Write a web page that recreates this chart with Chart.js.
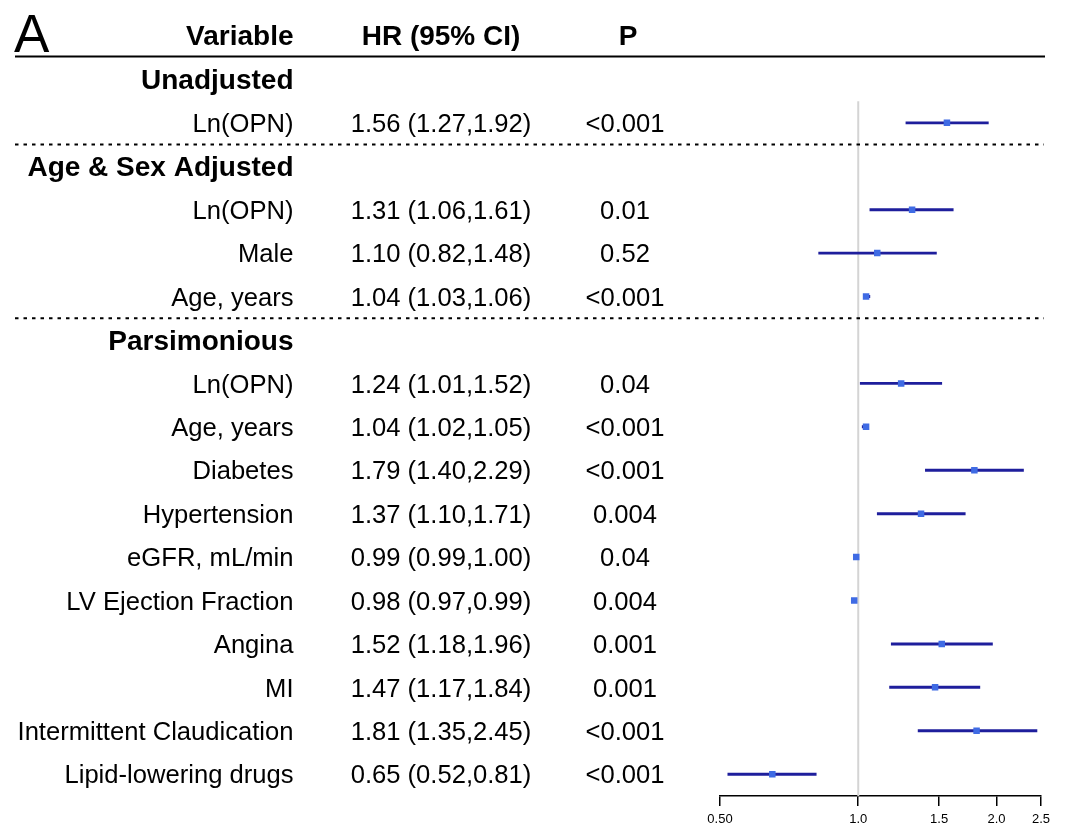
<!DOCTYPE html>
<html>
<head>
<meta charset="utf-8">
<script src="https://cdn.jsdelivr.net/npm/chart.js@4.4.1/dist/chart.umd.min.js"></script>
<style>
  html, body { margin: 0; padding: 0; background: #fff; }
  #wrap { width: 1065px; height: 828px; }
</style>
</head>
<body>
<div id="wrap"><canvas id="forest" width="1065" height="828"></canvas></div>
<script>
// rows of the table, top to bottom (row 0 is the column header)
const rowLabels = ['', 'Unadjusted', 'Ln(OPN)', 'Age & Sex Adjusted', 'Ln(OPN)', 'Male', 'Age, years',
  'Parsimonious', 'Ln(OPN)', 'Age, years', 'Diabetes', 'Hypertension', 'eGFR, mL/min',
  'LV Ejection Fraction', 'Angina', 'MI', 'Intermittent Claudication', 'Lipid-lowering drugs'];
const groupRows = [1, 3, 7];
const hr    = [null, null, 1.56, null, 1.31, 1.10, 1.04, null, 1.24, 1.04, 1.79, 1.37, 0.99, 0.98, 1.52, 1.47, 1.81, 0.65];
const ciLow = [null, null, 1.27, null, 1.06, 0.82, 1.03, null, 1.01, 1.02, 1.40, 1.10, 0.99, 0.97, 1.18, 1.17, 1.35, 0.52];
const ciHigh= [null, null, 1.92, null, 1.61, 1.48, 1.06, null, 1.52, 1.05, 2.29, 1.71, 1.00, 0.99, 1.96, 1.84, 2.45, 0.81];
const pText = ['', '', '<0.001', '', '0.01', '0.52', '<0.001', '', '0.04', '<0.001', '<0.001', '0.004', '0.04',
  '0.004', '0.001', '0.001', '<0.001', '<0.001'];
const xTicks = [0.5, 1, 1.5, 2, 2.5];
const dividerRows = [2.5, 6.5];

const FONT = "'Liberation Sans', Arial, Helvetica, sans-serif";

const ciData = ciLow.map((lo, i) => (lo == null ? null : [lo, ciHigh[i]]));

// table text, reference line and dividers
const tablePlugin = {
  id: 'tablePlugin',
  beforeDatasetsDraw(chart) {
    const ctx = chart.ctx;
    const x = chart.scales.x, y = chart.scales.y;
    const rowH = y.getPixelForValue(1) - y.getPixelForValue(0);
    ctx.save();
    // vertical line at HR = 1
    ctx.strokeStyle = '#d4d4d4';
    ctx.lineWidth = 2;
    ctx.beginPath();
    ctx.moveTo(x.getPixelForValue(1), y.getPixelForValue(1) + rowH / 2);
    ctx.lineTo(x.getPixelForValue(1), chart.chartArea.bottom);
    ctx.stroke();
    // dashed dividers between sections
    ctx.strokeStyle = '#000';
    ctx.lineWidth = 2;
    ctx.setLineDash([3.5, 5]);
    dividerRows.forEach(r => {
      const py = y.getPixelForValue(0) + r * rowH;
      ctx.beginPath();
      ctx.moveTo(15, py);
      ctx.lineTo(1044, py);
      ctx.stroke();
    });
    // solid rule under the header
    ctx.setLineDash([]);
    ctx.beginPath();
    ctx.moveTo(15, 56.5);
    ctx.lineTo(1045, 56.5);
    ctx.stroke();
    ctx.restore();
  },
  afterDraw(chart) {
    const ctx = chart.ctx;
    const y = chart.scales.y;
    ctx.save();
    ctx.fillStyle = '#000';
    ctx.textBaseline = 'alphabetic';

    ctx.font = '53px ' + FONT;
    ctx.textAlign = 'left';
    ctx.fillText('A', 14, 52);

    const head = y.getPixelForValue(0) + 9;
    ctx.font = 'bold 28px ' + FONT;
    ctx.textAlign = 'right';
    ctx.fillText('Variable', 293.5, head);
    ctx.textAlign = 'center';
    ctx.fillText('HR (95% CI)', 441, head);
    ctx.fillText('P', 628, head);

    rowLabels.forEach((lab, i) => {
      if (i === 0) return;
      const py = y.getPixelForValue(i);
      if (groupRows.includes(i)) {
        ctx.font = 'bold 28px ' + FONT;
        ctx.textAlign = 'right';
        ctx.fillText(lab, 293.5, py + 10);
        return;
      }
      ctx.font = '25.6px ' + FONT;
      ctx.textAlign = 'right';
      ctx.fillText(lab, 293.5, py + 9.2);
      ctx.textAlign = 'center';
      const txt = hr[i].toFixed(2) + ' (' + ciLow[i].toFixed(2) + ',' + ciHigh[i].toFixed(2) + ')';
      ctx.fillText(txt, 441, py + 9.2);
      ctx.fillText(pText[i], 625, py + 9.2);
    });
    ctx.restore();
  }
};

const ctx = document.getElementById('forest').getContext('2d');
const forest = new Chart(ctx, {
  type: 'bar',
  data: {
    labels: rowLabels.map((l, i) => i + ':' + l),
    datasets: [{
      label: 'HR',
      type: 'line',
      indexAxis: 'y',
      data: hr,
      showLine: false,
      pointStyle: 'rect',
      pointRadius: 4.6,
      pointBackgroundColor: '#3f6be4',
      pointBorderWidth: 0,
      order: 1
    }, {
      label: '95% CI',
      data: ciData,
      backgroundColor: '#1e1e9c',
      barThickness: 2.3,
      order: 2
    }]
  },
  options: {
    indexAxis: 'y',
    responsive: false,
    animation: false,
    layout: { padding: { left: 720, right: 24, top: 14.3, bottom: -5.5 } },
    plugins: {
      legend: { display: false },
      tooltip: { enabled: false }
    },
    scales: {
      x: {
        type: 'logarithmic',
        position: 'bottom',
        min: 0.5,
        max: 2.5,
        afterBuildTicks(scale) {
          scale.ticks = xTicks.map(v => ({ value: v }));
        },
        grid: { drawOnChartArea: false, drawTicks: true, tickLength: 10, color: '#000', lineWidth: 1.5 },
        border: { display: true, color: '#000', width: 1.5 },
        ticks: {
          autoSkip: false,
          maxRotation: 0,
          padding: 6,
          color: '#000',
          font: { family: FONT, size: 13 },
          callback: v => (v === 0.5 ? '0.50' : Number(v).toFixed(1))
        }
      },
      y: {
        type: 'category',
        display: false,
        offset: true,
        grid: { display: false }
      }
    }
  },
  plugins: [tablePlugin]
});
</script>
</body>
</html>
